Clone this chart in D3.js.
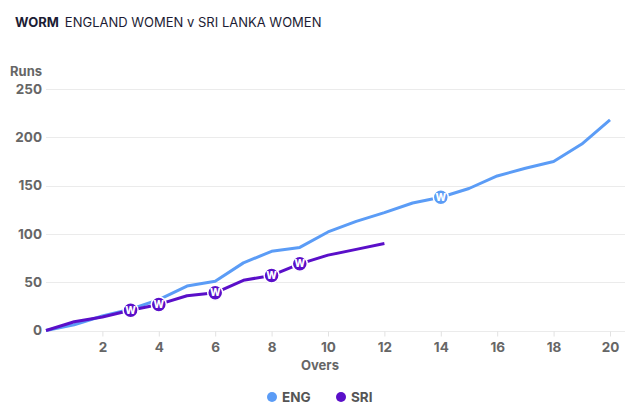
<!DOCTYPE html>
<html>
<head>
<meta charset="utf-8">
<script src="https://cdn.jsdelivr.net/npm/d3@7"></script>
<style>
  body { margin: 0; background: #fff; }
  svg { font-family: Inter, "Open Sans", sans-serif; }
</style>
</head>
<body>
<script>
// worm data, runs at the end of each over
const overs = d3.range(0, 21);
const engRuns = [0, 6, 15, 22, 32, 46, 51, 70, 82, 86, 102, 113, 122, 132, 138, 147, 160, 168, 175, 193, 218];
const sriRuns = [0, 9, 14, 21, 27, 36, 39, 52, 57, 69, 78, 84, 90];
const engWickets = [14];
const sriWickets = [3, 4, 6, 8, 9];
const yTicks = [0, 50, 100, 150, 200, 250];
const xTicks = [2, 4, 6, 8, 10, 12, 14, 16, 18, 20];

const series = [
  {name: 'ENG', color: '#5b9cf6', runs: engRuns, wickets: engWickets},
  {name: 'SRI', color: '#5a0fc9', runs: sriRuns, wickets: sriWickets}
];

const width = 640, height = 414;
const margin = {top: 89, right: 15, bottom: 84, left: 46};

const svg = d3.select('body').append('svg')
  .attr('width', width)
  .attr('height', height);

const title = svg.append('text')
  .attr('x', 15).attr('y', 27)
  .attr('font-size', 13)
  .attr('fill', '#1c1c34');
title.append('tspan').attr('font-weight', 700).text('WORM');
title.append('tspan').attr('dx', 6).text('ENGLAND WOMEN v SRI LANKA WOMEN');

const x = d3.scaleLinear().domain([0, 20]).range([margin.left, 610]);
const y = d3.scaleLinear().domain([0, 250]).range([height - margin.bottom + 0.5, margin.top]);

// grid
svg.append('g')
  .selectAll('line')
  .data(yTicks)
  .join('line')
  .attr('x1', margin.left).attr('x2', width - margin.right)
  .attr('y1', d => Math.round(y(d)) + 0.5).attr('y2', d => Math.round(y(d)) + 0.5)
  .attr('stroke', '#ebebeb');

svg.append('g')
  .call(d3.axisLeft(y).tickValues(yTicks).tickSize(0).tickPadding(0))
  .call(g => g.select('.domain').remove())
  .call(g => g.selectAll('text')
    .attr('x', 42)
    .attr('fill', '#666')
    .attr('font-size', 13.5)
    .attr('font-weight', 700)
    .attr('font-family', 'Inter, sans-serif'));

svg.append('g')
  .attr('transform', `translate(0,${Math.round(y(0)) + 0.5})`)
  .call(d3.axisBottom(x).tickValues(xTicks).tickSize(5).tickPadding(6))
  .call(g => g.select('.domain').remove())
  .call(g => g.selectAll('line').attr('stroke', '#e2e2e2'))
  .call(g => g.selectAll('text')
    .attr('fill', '#666')
    .attr('font-size', 13.5)
    .attr('font-weight', 700)
    .attr('font-family', 'Inter, sans-serif'));

svg.append('text')
  .attr('x', 10).attr('y', 76)
  .attr('fill', '#666').attr('font-size', 13).attr('font-weight', 700)
  .text('Runs');

svg.append('text')
  .attr('x', 320).attr('y', 370)
  .attr('text-anchor', 'middle')
  .attr('fill', '#666').attr('font-size', 13).attr('font-weight', 700)
  .text('Overs');

const line = d3.line()
  .x((d, i) => x(overs[i]))
  .y(d => y(d));

series.forEach(s => {
  svg.append('path')
    .datum(s.runs)
    .attr('fill', 'none')
    .attr('stroke', s.color)
    .attr('stroke-width', 3)
    .attr('stroke-linejoin', 'round')
    .attr('d', line);
});

series.forEach(s => {
  const w = svg.append('g')
    .selectAll('g')
    .data(s.wickets)
    .join('g')
    .attr('transform', d => `translate(${x(d)},${y(s.runs[d])})`);
  w.append('circle')
    .attr('r', 7.5)
    .attr('fill', s.color)
    .attr('stroke', '#fff')
    .attr('stroke-width', 1.5);
  w.append('text')
    .attr('text-anchor', 'middle')
    .attr('dy', '0.36em')
    .attr('fill', '#fff')
    .attr('font-size', 10)
    .attr('font-weight', 800)
    .text('W');
});

// legend
const legend = svg.append('g')
  .selectAll('g')
  .data(series)
  .join('g')
  .attr('transform', (d, i) => `translate(${272 + i * 69},397)`);
legend.append('circle').attr('r', 5).attr('fill', d => d.color);
legend.append('text')
  .attr('x', 10).attr('dy', '0.36em')
  .attr('fill', '#555').attr('font-size', 13.5).attr('font-weight', 700)
  .text(d => d.name);
</script>
</body>
</html>
